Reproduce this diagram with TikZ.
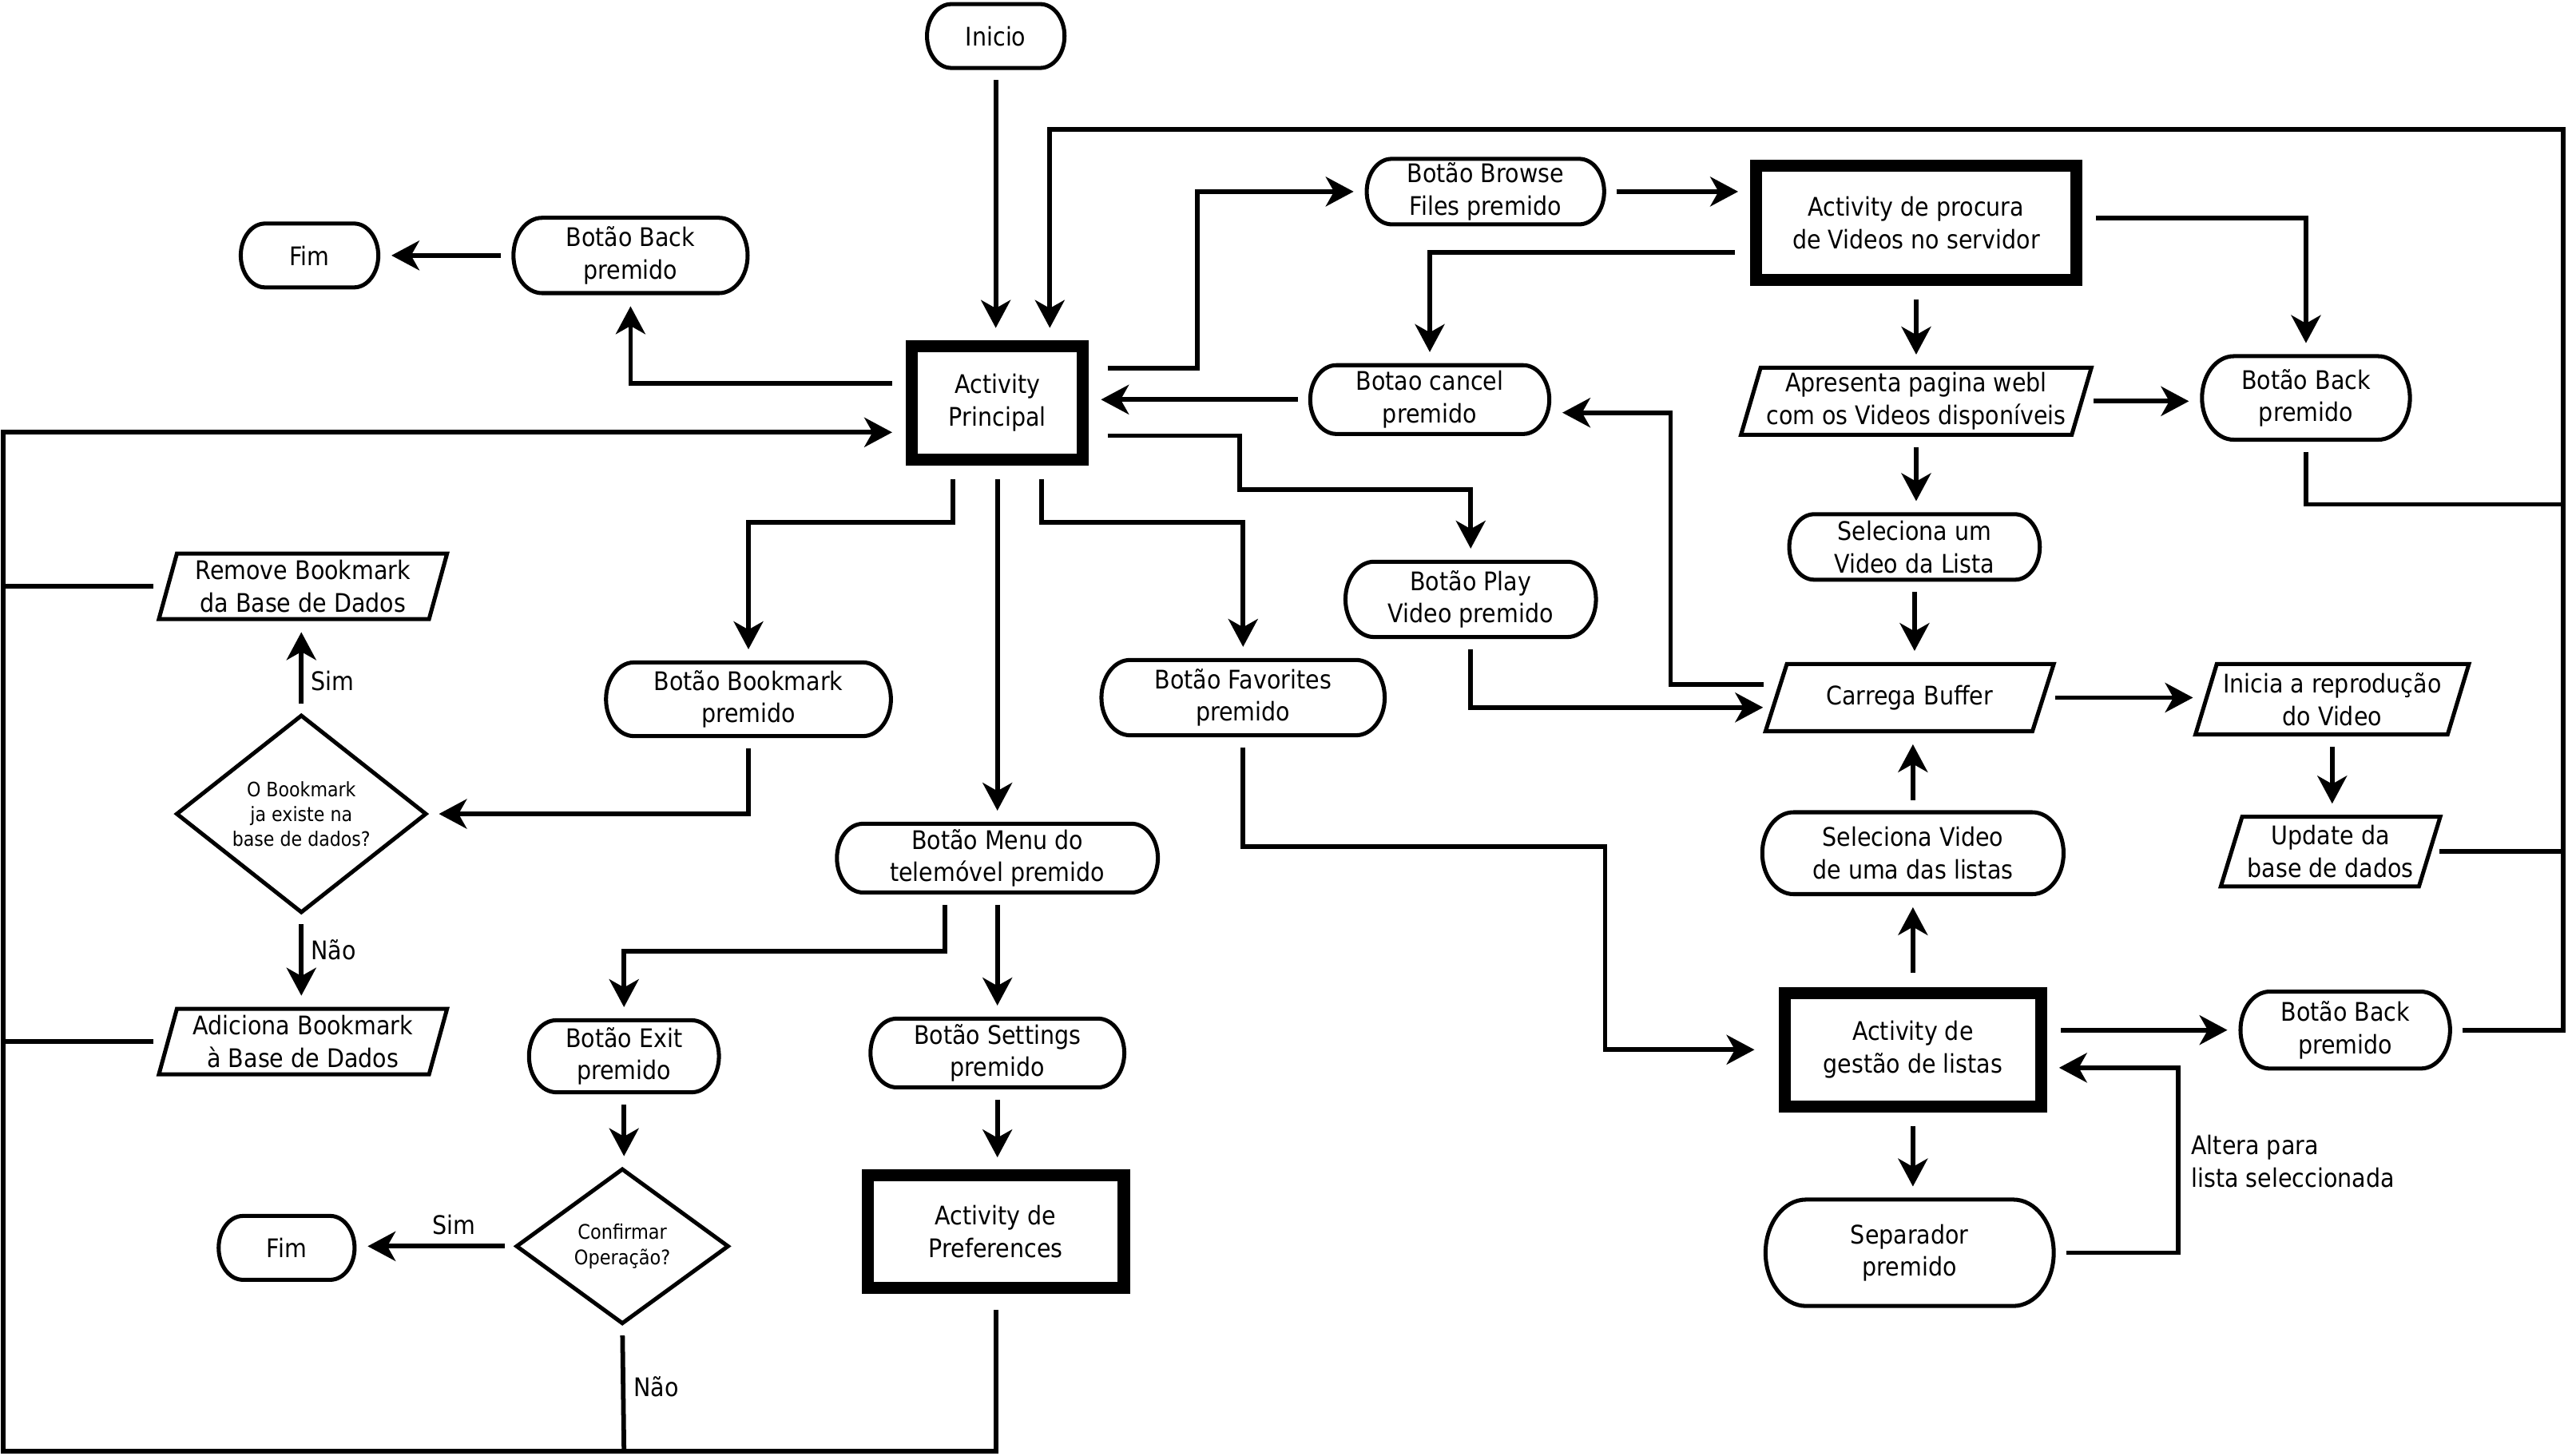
\documentclass[tikz,border=0pt]{standalone}
\usepackage{fontspec}
\setmainfont{DejaVu Sans}[FakeStretch=0.89]
\usetikzlibrary{calc,arrows.meta}
\tikzset{
 txt/.style={align=center, inner sep=0pt, outer sep=0pt, font=\fontsize{8.9}{11.3}\selectfont},
 small/.style={txt, font=\fontsize{6.9}{8.6}\selectfont},
 shp/.style={line width=1.4pt, line join=miter},
 thickbox/.style={txt, draw, line width=4.2pt},
 con/.style={line width=1.6pt, shorten <=0.15cm},
 arr/.style={con, -{Stealth[length=0.34cm,width=0.36cm,inset=0.1cm]}, shorten >=0.16cm},
}
\newcommand\stad[1]{\draw[shp] let \p1=(#1.north west), \p2=(#1.south east), \n1={0.5*(\y1-\y2)}, \n2={0.38*(\y1-\y2)} in (\x1+\n2,\y1) -- (\x2-\n2,\y1) arc[start angle=90,end angle=-90,x radius=\n2,y radius=\n1] -- (\x1+\n2,\y2) arc[start angle=270,end angle=90,x radius=\n2,y radius=\n1] -- cycle;}
\newcommand\para[2]{\draw[shp] ($(#1.north west)+(#2/2,0)$) -- ($(#1.north east)+(#2/2,0)$) -- ($(#1.south east)-(#2/2,0)$) -- ($(#1.south west)-(#2/2,0)$) -- cycle;}
\newcommand\diam[1]{\draw[shp] (#1.north) -- (#1.east) -- (#1.south) -- (#1.west) -- cycle;}
\begin{document}
\begin{tikzpicture}[x=0.02cm,y=0.02cm]
\useasboundingbox (0,0) rectangle (1568,-889);
\fill[white] (0,0) rectangle (1568,-889);

% ---------- nodes ----------
\node[txt,minimum width=1.68cm,minimum height=0.78cm] (ini) at (608,-22) {Inicio};
\node[txt,minimum width=1.68cm,minimum height=0.78cm] (fim1) at (189,-156) {Fim};
\node[txt,minimum width=2.86cm,minimum height=0.92cm] (bk1) at (385,-156) {Botão Back\\premido};
\node[thickbox,minimum width=2.09cm,minimum height=1.39cm] (ap) at (609,-246) {Activity\\Principal};
\node[txt,minimum width=2.90cm,minimum height=0.80cm] (brw) at (907,-117) {Botão Browse\\Files premido};
\node[thickbox,minimum width=3.91cm,minimum height=1.39cm] (proc) at (1170,-136) {Activity de procura\\de Videos no servidor};
\node[txt,minimum width=2.92cm,minimum height=0.84cm] (cnl) at (873,-244) {Botao cancel\\premido};
\node[txt,minimum width=4.04cm,minimum height=0.82cm] (apr) at (1170,-245) {Apresenta pagina webl\\com os Videos disponíveis};
\node[txt,minimum width=2.54cm,minimum height=1.02cm] (bk2) at (1408,-243) {Botão Back\\premido};
\node[txt,minimum width=3.06cm,minimum height=0.80cm] (sel1) at (1169,-334) {Seleciona um\\Video da Lista};
\node[txt,minimum width=3.06cm,minimum height=0.92cm] (play) at (898,-366) {Botão Play\\Video premido};
\node[txt,minimum width=3.26cm,minimum height=0.82cm] (carr) at (1166,-426) {Carrega Buffer};
\node[txt,minimum width=3.08cm,minimum height=0.86cm] (ini2) at (1424,-427) {Inicia a reprodução\\do Video};
\node[txt,minimum width=2.42cm,minimum height=0.85cm] (upd) at (1423,-520) {Update da\\base de dados};
\node[txt,minimum width=3.68cm,minimum height=1.00cm] (sel2) at (1168,-521) {Seleciona Video\\de uma das listas};
\node[thickbox,minimum width=3.13cm,minimum height=1.39cm] (gest) at (1168,-641) {Activity de\\gestão de listas};
\node[txt,minimum width=2.56cm,minimum height=0.94cm] (bk3) at (1432,-629) {Botão Back\\premido};
\node[txt,minimum width=3.52cm,minimum height=1.30cm] (sep) at (1166,-765) {Separador\\premido};
\node[txt,minimum width=3.48cm,minimum height=0.90cm] (bkm) at (457,-427) {Botão Bookmark\\premido};
\node[txt,minimum width=3.46cm,minimum height=0.92cm] (fav) at (759,-426) {Botão Favorites\\premido};
\node[txt,minimum width=3.92cm,minimum height=0.84cm] (menu) at (609,-524) {Botão Menu do\\telemóvel premido};
\node[txt,minimum width=3.30cm,minimum height=0.80cm] (rem) at (185,-358) {Remove Bookmark\\da Base de Dados};
\node[small,minimum width=3.04cm,minimum height=2.40cm] (q1) at (184,-497) {O Bookmark\\ja existe na\\base de dados?};
\node[txt,minimum width=3.30cm,minimum height=0.80cm] (add) at (185,-636) {Adiciona Bookmark\\à Base de Dados};
\node[txt,minimum width=2.32cm,minimum height=0.88cm] (exit) at (381,-645) {Botão Exit\\premido};
\node[txt,minimum width=3.10cm,minimum height=0.84cm] (sett) at (609,-643) {Botão Settings\\premido};
\node[small,font=\fontsize{7}{9}\selectfont,minimum width=2.58cm,minimum height=1.88cm] (q2) at (380,-761) {Confirmar\\Operação?};
\node[txt,minimum width=1.66cm,minimum height=0.78cm] (fim2) at (175,-762) {Fim};
\node[thickbox,minimum width=3.13cm,minimum height=1.37cm] (pref) at (608,-752) {Activity de\\Preferences};

% labels
\node[txt,anchor=west] (lsim1) at (190,-416) {Sim};
\node[txt,anchor=west] (lnao1) at (190,-580) {Não};
\node[txt] (lsim2) at (277,-748) {Sim};
\node[txt,anchor=west] (lnao2) at (387,-847) {Não};
\node[txt,align=left,anchor=west] (lalt) at (1338,-709) {Altera para\\lista seleccionada};

% ---------- outlines ----------
\stad{ini}\stad{fim1}\stad{bk1}\stad{brw}\stad{cnl}\stad{bk2}\stad{sel1}\stad{play}
\stad{sel2}\stad{bk3}\stad{sep}\stad{bkm}\stad{fav}\stad{menu}\stad{exit}\stad{sett}\stad{fim2}
\para{apr}{12}\para{carr}{13}\para{ini2}{13}\para{upd}{13}\para{rem}{11}\para{add}{11}
\diam{q1}\diam{q2}

% ---------- junction coordinates ----------
\coordinate (jTopL) at (641,-79);
\coordinate (jTopR) at (1565,-79);
\coordinate (jR1) at (1565,-308);
\coordinate (jR3) at (1565,-630);
\coordinate (jL1) at (2,-264);
\coordinate (jL2) at (2,-886);
\coordinate (jB) at (608,-886);
\coordinate (jN) at (381,-886);

% ---------- connectors ----------
\draw[arr,shorten >=0.22cm] (ini.south) -- (ini.south |- ap.north);
\draw[arr,shorten >=0.22cm] (bk2.south) |- (jR1) -- (jTopR) -- (jTopL) -- (jTopL |- ap.north);
\draw[con,shorten <=0.12cm] (upd.east) -- (upd.east -| jR1);
\draw[con] (bk3.east) -- (bk3.east -| jR3) -- (jR1);
\draw[arr,shorten <=0.24cm] ($(ap.west)+(0,12)$) -| (bk1.south);
\draw[arr] (bk1.west) -- (bk1.west -| fim1.east);
\draw[arr,shorten <=0.27cm,shorten >=0.24cm] (pref.south) -- (jB) -- (jL2) -- (jL1) -- (jL1 -| ap.west);
\draw[con] (q2.south) -- (jN);
\draw[con,shorten <=0.18cm] (rem.west) -- (rem.west -| jL1);
\draw[con,shorten <=0.18cm] (add.west) -- (add.west -| jL1);
\draw[arr,shorten <=0.3cm] ($(ap.east)+(0,21)$) -- ($(ap.east)+(70,21)$) |- (brw.west);
\draw[arr,shorten >=0.22cm] (brw.east) -- (brw.east -| proc.west);
\draw[arr,shorten <=0.26cm] ($(proc.west)+(0,-18)$) -| (cnl.north);
\draw[arr,shorten >=0.22cm] (cnl.west) -- (cnl.west -| ap.east);
\draw[arr,shorten <=0.24cm] (proc.south) -- (proc.south |- apr.north);
\draw[arr,shorten <=0.24cm] ($(proc.east)+(0,3)$) -| (bk2.north);
\draw[arr] (apr.east) -- (apr.east -| bk2.west);
\draw[arr] (apr.south) -- (apr.south |- sel1.north);
\draw[arr] (sel1.south) -- (sel1.south |- carr.north);
\draw[arr] ($(carr.west)+(0,8)$) -- (1020,-418) |- ($(cnl.east)+(0,-8)$);
\draw[arr] (play.south) |- ($(carr.west)+(0,-6)$);
\draw[arr,shorten <=0.3cm] ($(ap.east)+(0,-20)$) -- (757,-266) |- (898,-299) -- (play.north);
\draw[arr] (carr.east) -- (carr.east -| ini2.west);
\draw[arr] (ini2.south) -- (ini2.south |- upd.north);
\draw[arr] (sel2.north) -- (sel2.north |- carr.south);
\draw[arr,shorten <=0.24cm] (gest.north) -- (gest.north |- sel2.south);
\draw[arr,shorten <=0.24cm] (bk3.west -| gest.east) -- (bk3.west);
\draw[arr,shorten <=0.24cm] (gest.south) -- (gest.south |- sep.north);
\draw[arr,shorten >=0.22cm] (sep.east) -- (1330,-765) |- ($(gest.east)+(0,-11)$);
\draw[arr,shorten >=0.37cm] (fav.south) |- (980,-517) |- (gest.west);
\draw[arr,shorten <=0.24cm] ($(ap.south)+(-27,0)$) -- (582,-319) -| (bkm.north);
\draw[arr,shorten <=0.24cm] ($(ap.south)+(27,0)$) -- (636,-319) -| (fav.north);
\draw[arr,shorten <=0.24cm] (ap.south) -- (ap.south |- menu.north);
\draw[arr] (bkm.south) |- (q1.east);
\draw[arr] (q1.north) -- (q1.north |- rem.south);
\draw[arr] (q1.south) -- (q1.south |- add.north);
\draw[arr] ($(menu.south)+(-32,0)$) -- (577,-581) -| (exit.north);
\draw[arr] (menu.south) -- (menu.south |- sett.north);
\draw[arr,shorten >=0.22cm] (sett.south) -- (sett.south |- pref.north);
\draw[arr] (exit.south) -- (exit.south |- q2.north);
\draw[arr] (q2.west) -- (q2.west -| fim2.east);
\end{tikzpicture}
\end{document}
